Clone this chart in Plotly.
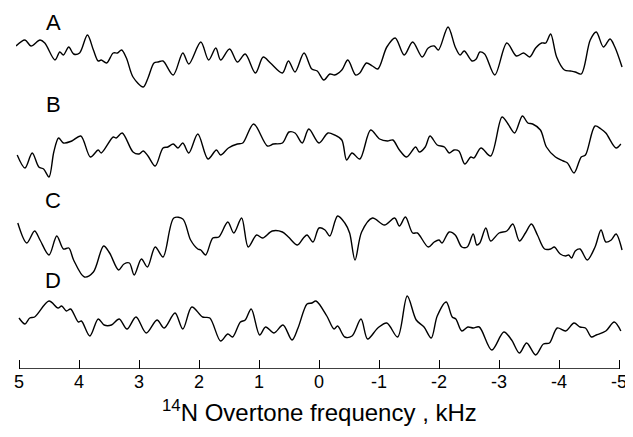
import plotly.graph_objects as go

# ---- data ----
freq_a = [5.05, 4.90, 4.80, 4.65, 4.57, 4.40, 4.32, 4.26, 4.17, 4.09,
          3.99, 3.86, 3.76, 3.68, 3.63, 3.54, 3.43, 3.36, 3.29, 3.21,
          3.10, 2.93, 2.85, 2.75, 2.68, 2.60, 2.43, 2.27, 2.17, 1.97,
          1.84, 1.72, 1.64, 1.49, 1.36, 1.23, 1.06, 0.93, 0.81, 0.61,
          0.51, 0.40, 0.25, 0.12, 0.03, -0.08, -0.18, -0.26, -0.38, -0.48,
          -0.61, -0.68, -0.79, -0.89, -0.98, -1.13, -1.27, -1.42, -1.56, -1.72,
          -1.82, -1.92, -1.99, -2.15, -2.27, -2.35, -2.42, -2.55, -2.62, -2.68,
          -2.76, -2.93, -3.13, -3.29, -3.41, -3.51, -3.61, -3.71, -3.78, -3.86,
          -3.96, -4.09, -4.19, -4.27, -4.37, -4.52, -4.62, -4.74, -4.85, -4.93,
          -5.05]
int_a = [1.1, 1.7, 1.1, 1.7, 1.4, -0.3, 0.5, 0.2, 1.0, 0.3,
         0.4, 2.2, 0.7, -0.4, -0.3, -0.6, 0.4, 0.4, 0.7, -0.1,
         -2.0, -3.0, -2.1, -0.6, -0.5, -0.4, -1.8, 0.4, -0.7, 1.5,
         -0.3, 0.9, -0.3, 0.8, -0.5, 0.3, -1.6, 0.0, -0.6, -1.6,
         -0.4, -1.5, 0.4, -1.2, -1.4, -2.3, -1.7, -1.8, -1.3, -0.3,
         -1.8, -1.6, -0.6, -0.9, -1.2, 1.0, 1.9, 0.2, 1.5, 0.0,
         0.9, 1.1, 0.7, 3.0, 1.0, 0.2, 0.6, -0.4, -0.2, 0.5,
         0.3, -1.8, 1.4, 0.1, 0.4, 0.0, 0.9, 1.4, 1.4, 2.3,
         0.0, -1.3, -1.4, -1.5, -1.7, 1.7, 2.5, 1.0, 1.8, 1.0,
         -1.0]

freq_b = [5.03, 4.90, 4.78, 4.67, 4.59, 4.50, 4.42, 4.34, 4.26, 4.12,
          3.97, 3.81, 3.68, 3.63, 3.43, 3.38, 3.28, 3.10, 3.00, 2.93,
          2.85, 2.73, 2.60, 2.52, 2.43, 2.35, 2.27, 2.17, 2.02, 1.85,
          1.71, 1.64, 1.51, 1.36, 1.27, 1.09, 0.86, 0.76, 0.61, 0.50,
          0.40, 0.28, 0.17, 0.00, -0.15, -0.26, -0.38, -0.46, -0.55, -0.68,
          -0.86, -1.01, -1.14, -1.23, -1.34, -1.46, -1.61, -1.67, -1.77, -1.85,
          -1.97, -2.09, -2.17, -2.25, -2.33, -2.43, -2.53, -2.58, -2.70, -2.86,
          -3.05, -3.15, -3.26, -3.39, -3.48, -3.56, -3.69, -3.79, -3.94, -4.07,
          -4.14, -4.25, -4.37, -4.44, -4.60, -4.70, -4.78, -4.95, -5.03]
int_b = [-0.8, -2.1, -0.6, -2.0, -2.2, -3.0, -0.5, 0.9, 0.4, 0.6,
         1.1, -1.0, -0.3, -0.6, 1.0, 0.9, 1.4, -0.5, -0.7, -0.4,
         -0.9, -1.9, -0.1, 0.0, 0.3, -0.1, 0.4, -0.6, 1.3, -1.2,
         -0.3, -0.8, -0.1, 0.3, 0.4, 2.3, 0.1, 0.3, 0.4, 1.5,
         1.4, 0.4, 1.8, 0.4, 1.4, 1.2, 0.7, -1.3, -0.6, -1.2,
         1.7, 0.8, 0.6, 0.7, -0.3, -1.0, 0.0, -0.5, 0.0, 1.1,
         0.2, 0.0, -0.6, -0.3, -0.4, -1.7, -1.0, -1.1, -0.1, -0.9,
         3.0, 2.3, 1.4, 3.1, 2.4, 2.3, 1.7, 0.0, -1.0, -1.4,
         -1.6, -2.6, -1.0, -0.8, 2.1, 1.8, 1.4, -0.1, 0.3]

freq_c = [5.02, 4.87, 4.74, 4.65, 4.50, 4.37, 4.26, 4.17, 4.09, 3.91,
          3.76, 3.59, 3.49, 3.34, 3.25, 3.16, 3.08, 2.96, 2.86, 2.73,
          2.60, 2.42, 2.27, 2.14, 2.02, 1.97, 1.89, 1.77, 1.67, 1.52,
          1.42, 1.29, 1.18, 1.04, 0.94, 0.78, 0.61, 0.51, 0.36, 0.26,
          0.20, 0.10, 0.00, -0.10, -0.18, -0.31, -0.43, -0.51, -0.60, -0.71,
          -0.89, -1.09, -1.26, -1.34, -1.44, -1.56, -1.64, -1.82, -1.92, -2.00,
          -2.05, -2.17, -2.27, -2.38, -2.47, -2.57, -2.63, -2.68, -2.78, -2.86,
          -3.00, -3.13, -3.23, -3.34, -3.44, -3.54, -3.64, -3.76, -3.86, -3.92,
          -4.02, -4.11, -4.16, -4.21, -4.27, -4.35, -4.47, -4.60, -4.70, -4.78,
          -4.87, -4.95, -5.05]
int_c = [1.7, -0.3, 0.9, 0.0, -1.5, 0.4, -0.9, -0.8, -2.0, -3.7,
         -3.2, -0.6, -1.3, -3.0, -2.4, -2.3, -3.5, -1.9, -2.7, -0.7,
         -1.7, 2.2, 2.1, 0.0, -0.9, -1.0, -1.5, 0.2, 0.3, 1.8,
         0.7, 2.2, -0.7, 0.5, 0.2, 0.9, 0.8, 0.3, -0.5, 0.2,
         0.5, -0.2, 1.2, 1.0, 0.4, 2.4, 1.7, 0.7, -2.0, 0.8,
         2.2, 1.5, 2.2, 1.4, 2.3, 0.7, 0.7, -0.7, -0.2, 0.0,
         -0.3, 0.8, 0.5, -0.7, -0.7, 0.6, -0.5, -0.3, 1.2, -0.1,
         0.7, 0.9, 1.6, -0.1, 0.7, 1.6, 0.5, -0.9, -0.9, -0.7,
         -1.4, -1.6, -1.5, -1.8, -1.1, -0.9, -2.0, -0.7, 1.0, -0.2,
         0.0, 0.6, -1.0]

freq_d = [5.00, 4.90, 4.82, 4.74, 4.50, 4.35, 4.29, 4.21, 4.14, 4.01,
          3.96, 3.82, 3.68, 3.58, 3.46, 3.33, 3.20, 3.05, 2.88, 2.70,
          2.58, 2.40, 2.27, 2.12, 1.94, 1.82, 1.64, 1.52, 1.44, 1.31,
          1.23, 1.13, 0.99, 0.89, 0.75, 0.60, 0.45, 0.35, 0.20, 0.12,
          0.05, -0.13, -0.25, -0.31, -0.43, -0.55, -0.70, -0.81, -0.98, -1.13,
          -1.31, -1.47, -1.62, -1.75, -1.87, -1.97, -2.12, -2.22, -2.28, -2.38,
          -2.48, -2.57, -2.67, -2.88, -3.08, -3.21, -3.34, -3.46, -3.61, -3.74,
          -3.84, -3.97, -4.11, -4.25, -4.35, -4.44, -4.54, -4.62, -4.78, -4.92,
          -5.03]
int_d = [0.7, 0.1, 0.7, 0.8, 2.4, 1.7, 1.9, 1.4, 1.6, 0.3,
         0.4, -1.1, 0.6, 0.0, 0.0, 0.6, -0.4, 0.8, -0.8, 0.5,
         -0.3, 1.2, -0.4, 1.8, 0.8, 0.7, -1.6, -0.9, -1.2, 0.3,
         0.5, 1.6, -1.0, -0.2, -0.8, 0.0, -1.5, -0.3, 2.1, 2.2,
         2.4, 0.9, -0.4, -0.1, -1.2, -1.1, 0.6, -1.4, -0.3, 0.2,
         -1.2, 2.9, 0.5, -0.2, -1.3, 0.9, 2.3, 0.8, 0.6, -0.6,
         -0.2, -0.3, -0.2, -2.5, -0.7, -1.5, -2.8, -1.8, -3.0, -1.9,
         -1.8, -0.3, -0.6, 0.2, -0.2, -0.3, -1.2, -1.0, -0.6, 0.3,
         -0.6]

labels = ["A", "B", "C", "D"]
offsets = [31.2, 22.2, 12.9, 4.4]
label_y = [34.7, 26.5, 16.9, 8.9]
tick_vals = [5, 4, 3, 2, 1, 0, -1, -2, -3, -4, -5]
tick_text = ["5", "4", "3", "2", "1", "0", "-1", "-2", "-3", "-4", "-5"]

FONT = "Liberation Sans, Arial, Helvetica, sans-serif"

fig = go.Figure()
series = [(freq_a, int_a), (freq_b, int_b), (freq_c, int_c), (freq_d, int_d)]
for (fx, iy), off in zip(series, offsets):
    fig.add_trace(go.Scatter(
        x=fx, y=[off + v for v in iy], mode="lines",
        line=dict(color="black", width=1.4, shape="spline", smoothing=0.9),
        showlegend=False, hoverinfo="skip"))

for lab, ly in zip(labels, label_y):
    fig.add_annotation(x=4.43, y=ly, xref="x", yref="y", text=lab,
                       showarrow=False, xanchor="center", yanchor="middle",
                       font=dict(family=FONT, size=22, color="black"))

# axis title (paper coordinates, below the axis)
fig.add_annotation(x=0.5, y=-0.12, xref="paper", yref="paper",
                   text="<sup>14</sup>N Overtone frequency , kHz",
                   showarrow=False, xanchor="center", yanchor="middle",
                   font=dict(family=FONT, size=24, color="black"))

# axis baseline from 5 to -5
fig.add_shape(type="line", x0=5, x1=-5, y0=0, y1=0, xref="x", yref="y",
              line=dict(color="black", width=1.3))

fig.update_xaxes(range=[5.05, -5.066], tickmode="array", tickvals=tick_vals,
                 ticktext=tick_text, ticks="inside", ticklen=9, tickwidth=1.3,
                 tickcolor="black", showline=False, showgrid=False, zeroline=False,
                 tickfont=dict(family=FONT, size=18, color="black"))
fig.update_yaxes(range=[0, 34.9], visible=False, showgrid=False, zeroline=False)

# page body has an 8px margin, so the figure is sized to the visible area
fig.update_layout(width=625, height=429, margin=dict(l=6, r=8, t=12, b=68),
                  plot_bgcolor="white", paper_bgcolor="white")

fig.write_html("out.html")
